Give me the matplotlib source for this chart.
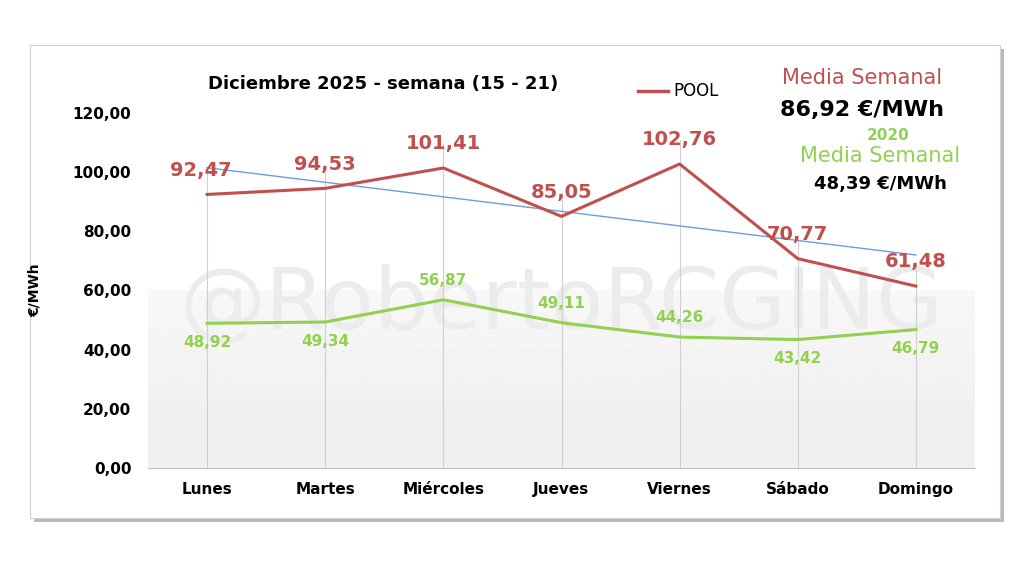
import matplotlib
matplotlib.use("Agg")
import matplotlib.pyplot as plt
from matplotlib.patches import Rectangle
import numpy as np

days = ["Lunes", "Martes", "Miércoles", "Jueves", "Viernes", "Sábado", "Domingo"]
pool = [92.47, 94.53, 101.41, 85.05, 102.76, 70.77, 61.48]
y2020 = [48.92, 49.34, 56.87, 49.11, 44.26, 43.42, 46.79]
trend = [101.5, 72.0]
yticks = [0, 20, 40, 60, 80, 100, 120]

RED = "#C0504D"
GREEN = "#92D050"
BLUE = "#6F9BE0"

fig = plt.figure(figsize=(10.24, 5.68), dpi=100)
fig.patch.set_facecolor("white")
fig.patches.append(Rectangle((34/1024, 1-522/568), 970/1024, 473/568, transform=fig.transFigure,
                             facecolor="#BBBBBB", edgecolor="none", zorder=-2))
fig.patches.append(Rectangle((30/1024, 1-518/568), 970/1024, 473/568, transform=fig.transFigure,
                             facecolor="white", edgecolor="#D0D0D0", lw=0.8, zorder=-1))

ax = fig.add_axes([148/1024, 1-468/568, 827/1024, 355/568])
ax.set_zorder(2)
ax.set_facecolor("none")
x = np.arange(len(days))

grad = np.linspace(0.93, 0.97, 100).reshape(-1, 1)
ax.imshow(grad, extent=(-0.5, 6.5, 0, 60), aspect="auto", cmap="gray", vmin=0, vmax=1, origin="lower", zorder=0)
ax.axhspan(0, 22, color="#F0F0F0", zorder=0.1)
ax.set_xlim(-0.5, 6.5)
ax.set_ylim(0, 120)

for s in ["top", "right", "left"]:
    ax.spines[s].set_visible(False)
ax.spines["bottom"].set_color("#BFBFBF")
ax.set_yticks(yticks)
ax.set_yticklabels([f"{v:.2f}".replace(".", ",") for v in yticks], fontsize=11, fontweight="bold")
ax.tick_params(axis="y", length=0, pad=12)
ax.set_xticks(x)
ax.set_xticklabels(days, fontsize=11, fontweight="bold")
ax.tick_params(axis="x", length=0, pad=10)
ax.set_ylabel("€/MWh", fontsize=10, fontweight="bold", labelpad=22)

ax.text(3, 55, "@RobertoRCGING", fontsize=62, color="#ECECEC", ha="center", va="center", zorder=0.5)

for i in range(len(days)):
    top = pool[i] + 8
    ax.plot([i, i], [0, top], color="#CFCFCF", lw=0.8, zorder=1)

ax.plot([x[0], x[-1]], trend, color=BLUE, lw=1, zorder=2)
ax.plot(x, pool, color=RED, lw=2.2, zorder=3, label="POOL")
ax.plot(x, y2020, color=GREEN, lw=2.2, zorder=3)

for i, v in enumerate(pool):
    ax.text(i - 0.05 if i == 0 else i, v + 5, f"{v:.2f}".replace(".", ","), color=RED, fontsize=14,
            fontweight="bold", ha="center", va="bottom")
goff = [-4, -4, 4, 4, 4, -4, -4]
for i, v in enumerate(y2020):
    ax.text(i, v + goff[i], f"{v:.2f}".replace(".", ","), color=GREEN, fontsize=11,
            fontweight="bold", ha="center", va="bottom" if goff[i] > 0 else "top")

fig.text(383/1024, 1-84/568, "Diciembre 2025 - semana (15 - 21)", fontsize=13, fontweight="bold", ha="center", va="center")
fig.lines.append(plt.Line2D([638/1024, 668/1024], [1-91/568]*2, color=RED, lw=2.5, transform=fig.transFigure))
fig.text(673/1024, 1-91/568, "POOL", fontsize=12, va="center")
fig.text(862/1024, 1-78/568, "Media Semanal", fontsize=15, color=RED, ha="center", va="center")
fig.text(862/1024, 1-110/568, "86,92 €/MWh", fontsize=16, fontweight="bold", ha="center", va="center")
fig.text(888/1024, 1-136/568, "2020", fontsize=11, fontweight="bold", color=GREEN, ha="center", va="center")
fig.text(880/1024, 1-156/568, "Media Semanal", fontsize=15, color=GREEN, ha="center", va="center")
fig.text(880/1024, 1-184/568, "48,39 €/MWh", fontsize=13, fontweight="bold", ha="center", va="center")

fig.savefig("out.png", dpi=100)
